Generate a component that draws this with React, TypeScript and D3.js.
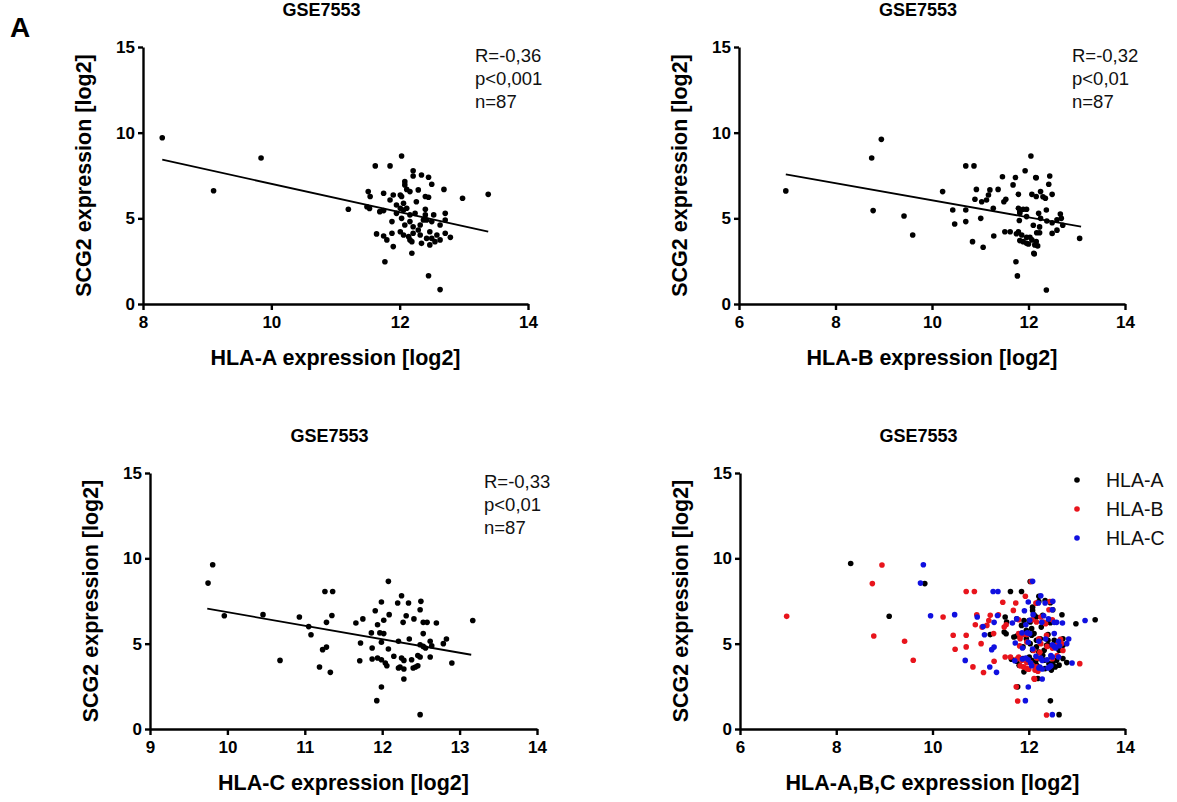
import React, { useEffect, useRef } from 'react'
import * as d3 from 'd3'

// SCG2 vs HLA class I expression (GSE7553)
const hlaA: [number, number][] = [
  [8.3, 9.7], [9.1, 6.61], [9.84, 8.52], [11.2, 5.53],
  [12.03, 8.64], [11.62, 8.06], [11.85, 8.06], [12.21, 7.78], [12.21, 7.47], [12.34, 7.53], [12.45, 7.4],
  [12.5, 6.99], [12.08, 6.95], [12.69, 6.69], [11.51, 6.56], [11.75, 6.46], [12.01, 6.36], [12.11, 6.69],
  [12.16, 6.56], [12.29, 6.66], [12.4, 6.27], [12.45, 6.23], [11.54, 6.27], [11.85, 6.07], [12.26, 5.97],
  [12.98, 6.17], [13.38, 6.4], [11.49, 5.68], [11.75, 5.45], [12.01, 5.59], [12.06, 5.49], [12.11, 5.59],
  [11.95, 5.29], [12.03, 5.0], [12.16, 5.2], [12.4, 5.53], [12.4, 5.2], [12.42, 4.9], [12.5, 4.81],
  [12.71, 5.29], [12.71, 4.9], [12.63, 4.61], [11.88, 4.81], [11.64, 4.09], [11.75, 3.97], [11.8, 3.74],
  [11.9, 3.35], [12.01, 4.22], [12.06, 4.03], [12.14, 3.93], [12.21, 4.13], [12.29, 4.32], [12.32, 4.03],
  [12.19, 3.64], [12.16, 3.74], [12.47, 4.22], [12.5, 3.83], [12.58, 4.03], [12.47, 3.45], [12.55, 3.64],
  [12.63, 3.74], [12.71, 4.13], [12.79, 3.89], [12.19, 2.96], [11.77, 2.47], [12.45, 1.65], [12.63, 0.84],
  [12.37, 4.9], [12.32, 4.61], [11.69, 5.39], [11.95, 5.78], [12.06, 5.88], [12.16, 4.81], [11.9, 6.36],
  [12.08, 7.14], [12.03, 6.27], [12.53, 5.2], [12.24, 5.29], [12.21, 4.51], [12.08, 4.61], [11.88, 4.13],
  [12.42, 3.83], [12.34, 3.54], [11.53, 5.58],
]

const hlaB: [number, number][] = [
  [6.97, 6.6], [8.75, 8.52], [8.95, 9.61], [8.78, 5.45], [9.42, 5.14], [9.6, 4.03],
  [12.05, 8.64], [10.7, 8.06], [10.87, 8.06], [11.93, 7.78], [11.46, 7.43], [11.73, 7.38], [12.15, 7.38],
  [11.68, 6.95], [10.22, 6.56], [10.92, 6.69], [11.2, 6.66], [11.37, 6.69], [11.79, 6.4], [12.07, 6.4],
  [12.16, 6.27], [11.17, 6.36], [11.13, 6.07], [11.03, 5.97], [10.89, 6.11], [11.53, 6.11], [11.49, 5.97],
  [10.43, 5.49], [10.7, 5.49], [11.27, 5.59], [11.79, 5.59], [11.89, 5.53], [11.96, 5.53], [10.47, 4.67],
  [10.7, 4.81], [11.01, 5.0], [11.81, 4.87], [11.82, 5.29], [11.51, 4.22], [11.62, 4.22], [11.79, 4.22],
  [11.86, 4.03], [11.96, 3.89], [12.17, 4.16], [11.89, 3.64], [11.96, 3.54], [12.07, 3.74], [12.13, 3.45],
  [11.28, 3.97], [10.84, 3.64], [11.06, 3.31], [12.12, 2.92], [11.74, 2.47], [11.77, 1.64],
  [12.16, 7.37], [12.44, 7.47], [12.42, 6.99], [12.25, 6.56], [12.49, 6.4], [12.3, 6.26], [12.35, 6.17],
  [12.37, 5.49], [12.21, 5.29], [12.25, 5.0], [12.38, 4.84], [12.49, 4.74], [12.59, 4.92], [12.66, 5.25],
  [12.68, 5.0], [12.71, 4.6], [12.59, 4.31], [12.49, 4.12], [12.23, 4.16], [12.16, 3.64], [12.19, 3.39],
  [12.11, 2.96], [12.37, 0.82], [13.06, 3.83], [12.23, 4.5], [12.1, 4.6], [11.96, 5.1], [11.82, 5.4],
  [11.75, 4.1], [11.82, 3.7], [12.03, 3.9], [12.0, 3.5],
]

const hlaC: [number, number][] = [
  [9.75, 8.55], [9.81, 9.62], [9.96, 6.64], [10.46, 6.7], [10.68, 4.02], [10.93, 6.56], [11.05, 6.0],
  [11.08, 5.52], [11.19, 3.63], [11.26, 8.06], [11.36, 8.06], [11.28, 6.25], [11.35, 6.65], [11.23, 4.65],
  [11.28, 4.8], [11.33, 3.32], [13.17, 6.36],
  [12.08, 8.65], [12.25, 7.81], [11.99, 7.44], [12.2, 7.38], [12.34, 7.38], [12.5, 7.48], [12.49, 6.99],
  [11.91, 6.93], [12.09, 6.7], [12.31, 6.64], [11.75, 6.45], [11.66, 6.21], [12.02, 6.37], [11.94, 6.11],
  [12.27, 6.25], [12.41, 6.45], [12.53, 6.25], [12.58, 6.25], [12.7, 6.21], [11.97, 5.63], [12.02, 5.59],
  [11.86, 5.63], [12.53, 5.59], [11.99, 5.08], [12.35, 5.27], [12.21, 5.14], [11.72, 5.04], [12.49, 4.94],
  [12.56, 4.75], [12.62, 5.14], [12.53, 4.84], [12.79, 5.0], [12.83, 5.27], [11.87, 4.75], [12.08, 4.69],
  [12.46, 4.3], [12.49, 4.22], [12.62, 4.22], [11.71, 4.0], [11.87, 4.1], [11.94, 4.16], [11.99, 4.06],
  [12.04, 3.87], [12.06, 3.71], [12.25, 4.16], [12.28, 4.02], [12.23, 3.63], [12.21, 3.57], [12.28, 3.52],
  [12.4, 3.57], [12.43, 3.63], [12.46, 3.71], [12.9, 3.87], [12.28, 2.93], [11.99, 2.46], [11.93, 1.66],
  [12.49, 0.84], [12.64, 4.88], [12.38, 4.06], [12.15, 4.26],
]

// regression line end points
const fitA: [number, number][] = [[8.3, 8.42], [13.38, 4.22]]
const fitB: [number, number][] = [[6.97, 7.57], [13.09, 4.51]]
const fitC: [number, number][] = [[9.74, 7.05], [13.15, 4.35]]

const statsA = ['R=-0,36', 'p<0,001', 'n=87']
const statsB = ['R=-0,32', 'p<0,01', 'n=87']
const statsC = ['R=-0,33', 'p<0,01', 'n=87']

const yTicks = [0, 5, 10, 15]
const legendNames = ['HLA-A', 'HLA-B', 'HLA-C']
const legendColors = ['#000000', '#e8141c', '#1010e0']

const FONT = '"Liberation Sans", Arial, sans-serif'

type Panel = {
  left: number; right: number; top: number; bottom: number
  xDomain: [number, number]; xTicks: number[]
  xLabel: string
  series: { pts: [number, number][]; color: string }[]
  fit?: [number, number][]
  stats?: string[]
  legend?: boolean
}

const panels: Panel[] = [
  { left: 143, right: 528, top: 47, bottom: 304, xDomain: [8, 14], xTicks: [8, 10, 12, 14],
    xLabel: 'HLA-A expression [log2]', series: [{ pts: hlaA, color: '#000' }], fit: fitA, stats: statsA },
  { left: 739, right: 1125, top: 47, bottom: 304, xDomain: [6, 14], xTicks: [6, 8, 10, 12, 14],
    xLabel: 'HLA-B expression [log2]', series: [{ pts: hlaB, color: '#000' }], fit: fitB, stats: statsB },
  { left: 150, right: 537, top: 473, bottom: 729, xDomain: [9, 14], xTicks: [9, 10, 11, 12, 13, 14],
    xLabel: 'HLA-C expression [log2]', series: [{ pts: hlaC, color: '#000' }], fit: fitC, stats: statsC },
  { left: 740, right: 1125, top: 473, bottom: 729, xDomain: [6, 14], xTicks: [6, 8, 10, 12, 14],
    xLabel: 'HLA-A,B,C expression [log2]',
    series: [
      { pts: hlaA, color: legendColors[0] },
      { pts: hlaB, color: legendColors[1] },
      { pts: hlaC, color: legendColors[2] },
    ], legend: true },
]

export default function App() {
  const ref = useRef<SVGSVGElement>(null)

  useEffect(() => {
    const svg = d3.select(ref.current)
    svg.selectAll('*').remove()

    svg.append('text').attr('x', 10).attr('y', 37).text('A')
      .attr('font-family', FONT).attr('font-weight', 'bold').attr('font-size', 28)

    panels.forEach(p => {
      const x = d3.scaleLinear().domain(p.xDomain).range([p.left, p.right])
      const y = d3.scaleLinear().domain([0, 15]).range([p.bottom, p.top])
      const g = svg.append('g')
      const cx = (p.left + p.right) / 2

      g.append('text').attr('x', cx - 14).attr('y', p.top - 31).attr('text-anchor', 'middle')
        .attr('font-family', FONT).attr('font-weight', 'bold').attr('font-size', 18).text('GSE7553')

      const yAxis = g.append('g').attr('transform', `translate(${p.left},0)`)
        .call(d3.axisLeft(y).tickValues(yTicks).tickFormat(d3.format('d')).tickSize(5).tickSizeOuter(0).tickPadding(3))
      const xAxis = g.append('g').attr('transform', `translate(0,${p.bottom})`)
        .call(d3.axisBottom(x).tickValues(p.xTicks).tickFormat(d3.format('d')).tickSize(6).tickSizeOuter(0).tickPadding(6))
      ;[xAxis, yAxis].forEach(a => {
        a.selectAll('.domain, .tick line').attr('stroke', '#000').attr('stroke-width', 2.4)
        a.selectAll('text').attr('fill', '#000').attr('font-family', FONT)
          .attr('font-weight', 'bold').attr('font-size', 17)
      })

      g.append('text').attr('x', cx).attr('y', p.bottom + 61).attr('text-anchor', 'middle')
        .attr('font-family', FONT).attr('font-weight', 'bold').attr('font-size', 21.5).text(p.xLabel)
      g.append('text')
        .attr('transform', `translate(${p.left - 52},${(p.top + p.bottom) / 2}) rotate(-90)`)
        .attr('text-anchor', 'middle')
        .attr('font-family', FONT).attr('font-weight', 'bold').attr('font-size', 21.5)
        .text('SCG2 expression [log2]')

      if (p.fit) {
        g.append('path').datum(p.fit)
          .attr('d', d3.line<[number, number]>().x(d => x(d[0])).y(d => y(d[1])))
          .attr('stroke', '#000').attr('stroke-width', 1.8).attr('fill', 'none')
      }

      p.series.forEach(s => {
        g.append('g').selectAll('circle').data(s.pts).join('circle')
          .attr('cx', d => x(d[0])).attr('cy', d => y(d[1])).attr('r', 2.8).attr('fill', s.color)
      })

      if (p.stats) {
        g.append('g').selectAll('text').data(p.stats).join('text')
          .attr('x', p.right - 53).attr('y', (_, i) => p.top + 15 + i * 23)
          .attr('font-family', FONT).attr('font-size', 18.5).attr('fill', '#111').text(d => d)
      }

      if (p.legend) {
        const lg = g.append('g')
        legendNames.forEach((name, i) => {
          const ly = p.top + 7 + i * 29
          lg.append('circle').attr('cx', p.right - 48).attr('cy', ly).attr('r', 2.8).attr('fill', legendColors[i])
          lg.append('text').attr('x', p.right - 19).attr('y', ly + 7)
            .attr('font-family', FONT).attr('font-size', 19.5).attr('fill', '#111').text(name)
        })
      }
    })
  }, [])

  return (
    <svg ref={ref} width={1177} height={802}
      style={{ position: 'absolute', left: 0, top: 0, background: '#fff' }} />
  )
}
